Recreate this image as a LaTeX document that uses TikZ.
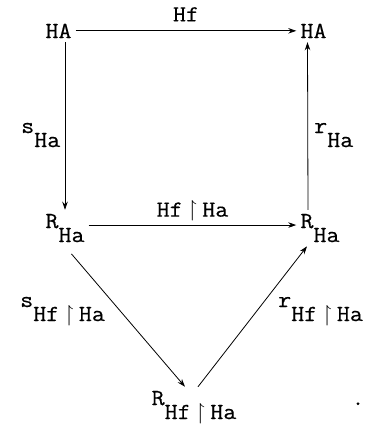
\documentclass[tikz,border=0pt]{standalone}
\usepackage{amssymb}
\usepackage{fontspec}
\setmonofont[FakeStretch=1.1,FakeBold=0.4]{Latin Modern Mono}
\usetikzlibrary{arrows.meta}

\newcommand{\lowsub}[2]{#1\raisebox{-14pt}{#2}}
\newcommand{\restr}{Hf\hspace{5pt}$\upharpoonright$\hspace{5pt}Ha}

\begin{document}
\begin{tikzpicture}[x=1pt,y=-1pt,font=\fontsize{23}{27}\selectfont\ttfamily,
    object/.style={inner sep=4pt,anchor=base},
    maplabel/.style={inner sep=0pt,text depth=0pt},
    map/.style={-{Stealth[length=8pt,width=5.5pt]},line width=.8pt}]
    \useasboundingbox (0,0) rectangle (366,426);
    \node[object] (hal) at (58.5,38) {HA};
    \node[object] (har) at (313.5,38) {HA};
    \node[object] (rl) at (65,228) {\lowsub{R}{Ha}};
    \node[object] (rr) at (320,228) {\lowsub{R}{Ha}};
    \node[object] (rb) at (194,405) {\lowsub{R}{\restr}};

    \draw[map] (hal) -- node[maplabel,above=9pt] (hf) {Hf} (har);
    \draw[map] (hal.south -| rl.north) -- (rl.north);
    \draw[map] ([xshift=-12pt]rr.north) -- ([xshift=-6pt]har.south);
    \draw[map] ([yshift=3pt]rl.east) -- node[maplabel,above=8pt] (hfr) {\restr}
      ([yshift=3pt]rr.west);
    \draw[map,shorten <=10pt] (rl.south) -- ([xshift=-9pt]rb.north);
    \draw[map] ([xshift=4pt]rb.north) -- ([xshift=-13pt]rr.south);

    \node[maplabel,anchor=base west] (sha) at (21,133) {\lowsub{s}{Ha}};
    \node[maplabel,anchor=base west] (rha) at (314,133) {\lowsub{r}{Ha}};
    \node[maplabel,anchor=base west] (shr) at (20,307) {\lowsub{s}{\restr}};
    \node[maplabel,anchor=base west] (rhr) at (278,307) {\lowsub{r}{\restr}};
    \node[maplabel,anchor=base] (stop) at (358,405) {.};
  \end{tikzpicture}
\end{document}
